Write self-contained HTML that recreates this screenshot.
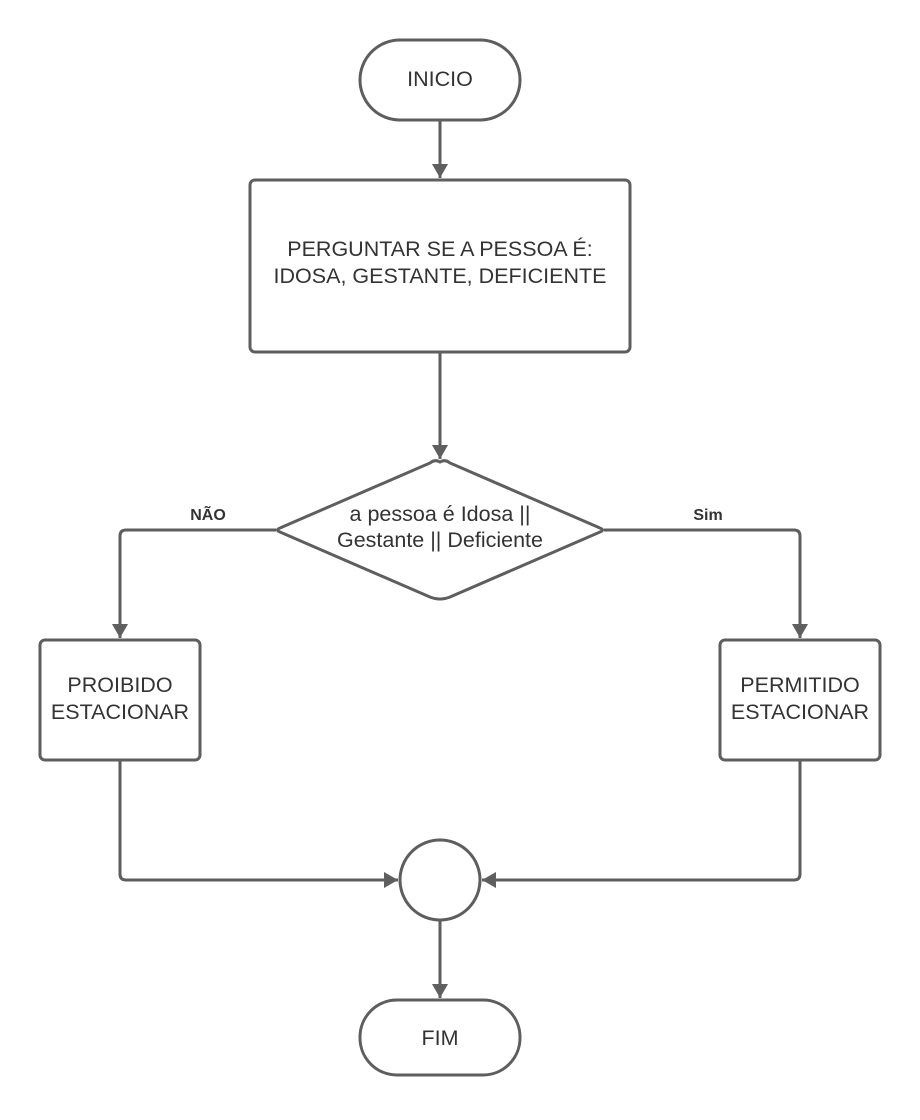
<!DOCTYPE html>
<html><head><style>body{margin:0;background:#fff}svg{display:block}text{font-family:"Liberation Sans",sans-serif;fill:#333;font-size:21.5px;text-anchor:middle}</style></head><body>
<svg width="920" height="1120" viewBox="0 0 920 1120">
<defs>
<marker id="b" markerWidth="14" markerHeight="16" refX="14" refY="8" orient="auto" markerUnits="userSpaceOnUse"><path d="M0,0 L14,8 L0,16 z" fill="#5e5e5e"/></marker></defs>
<g fill="none" stroke="#5e5e5e" stroke-width="3">
<rect x="360" y="40" width="160" height="80" rx="40" fill="#fff"/>
<rect x="250" y="180" width="380" height="172" rx="5" fill="#fff"/>
<path d="M440,462 Q445,459 450,463 L600,528 Q605,530 600,532 L450,597 Q440,601 430,597 L280,532 Q275,530 280,528 L430,463 Q435,459 440,462z" fill="#fff"/>
<rect x="40" y="640" width="160" height="120" rx="5" fill="#fff"/>
<rect x="720" y="640" width="160" height="120" rx="5" fill="#fff"/>
<circle cx="440" cy="880" r="40" fill="#fff"/>
<rect x="360" y="1000" width="160" height="75" rx="37" fill="#fff"/>
<path d="M440,120 V178" marker-end="url(#b)"/>
<path d="M440,352 V459" marker-end="url(#b)"/>
<path d="M276,530 H126 Q120,530 120,536 V638" marker-end="url(#b)"/>
<path d="M604,530 H794 Q800,530 800,536 V638" marker-end="url(#b)"/>
<path d="M120,760 V874 Q120,880 126,880 H398" marker-end="url(#b)"/>
<path d="M800,760 V874 Q800,880 794,880 H482" marker-end="url(#b)"/>
<path d="M440,920 V998" marker-end="url(#b)"/>
</g>
<text x="440" y="86">INICIO</text>
<text x="440" y="256">PERGUNTAR SE A PESSOA É:</text>
<text x="440" y="283">IDOSA, GESTANTE, DEFICIENTE</text>
<text x="440" y="521">a pessoa é Idosa ||</text>
<text x="440" y="547">Gestante || Deficiente</text>
<text x="120" y="692">PROIBIDO</text>
<text x="120" y="719">ESTACIONAR</text>
<text x="800" y="692">PERMITIDO</text>
<text x="800" y="719">ESTACIONAR</text>
<text x="440" y="1045">FIM</text>
<text x="208" y="520" style="font-size:16px;font-weight:bold">NÃO</text>
<text x="708" y="520" style="font-size:16px;font-weight:bold">Sim</text>
</svg></body></html>
